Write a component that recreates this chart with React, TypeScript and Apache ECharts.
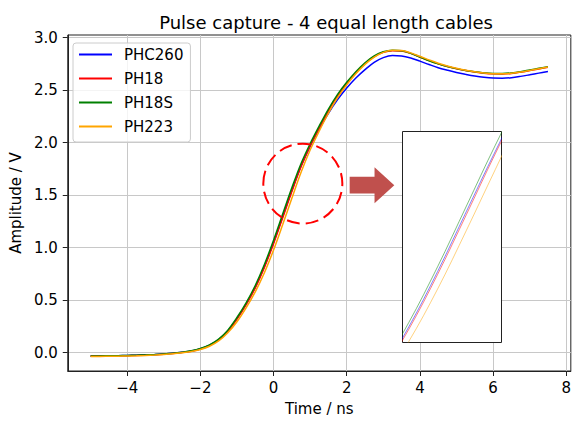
import React, { useEffect, useRef } from "react";
import * as echarts from "echarts";

const timeNs = [
  -5, -4.75, -4.5, -4.25, -4, -3.75, -3.5, -3.25, -3, -2.75, -2.5, -2.25, -2, -1.75, -1.5, -1.25,
  -1, -0.75, -0.5, -0.25, 0, 0.25, 0.5, 0.75, 1, 1.25, 1.5, 1.75, 2, 2.25, 2.5, 2.75, 3, 3.25,
  3.5, 3.75, 4, 4.25, 4.5, 4.75, 5, 5.25, 5.5, 5.75, 6, 6.25, 6.5, 6.75, 7, 7.25, 7.5,
];

const phc260 = [
  -0.03, -0.03, -0.029, -0.028, -0.026, -0.024, -0.021, -0.017, -0.012, -0.005, 0.005, 0.017,
  0.038, 0.071, 0.125, 0.208, 0.325, 0.463, 0.625, 0.822, 1.05, 1.298, 1.545, 1.775, 1.965, 2.13,
  2.28, 2.41, 2.52, 2.615, 2.695, 2.765, 2.81, 2.83, 2.826, 2.806, 2.776, 2.744, 2.714, 2.69,
  2.668, 2.65, 2.634, 2.622, 2.615, 2.614, 2.619, 2.631, 2.646, 2.662, 2.678,
];

const ph18 = [
  -0.032, -0.032, -0.031, -0.03, -0.028, -0.026, -0.023, -0.019, -0.014, -0.007, 0.003, 0.015,
  0.036, 0.069, 0.122, 0.205, 0.32, 0.458, 0.618, 0.812, 1.038, 1.285, 1.535, 1.77, 1.968, 2.14,
  2.302, 2.445, 2.562, 2.665, 2.752, 2.818, 2.86, 2.876, 2.872, 2.85, 2.816, 2.781, 2.75, 2.725,
  2.704, 2.686, 2.672, 2.661, 2.655, 2.654, 2.659, 2.671, 2.686, 2.702, 2.718,
];

const ph18s = [
  -0.03, -0.03, -0.029, -0.028, -0.026, -0.024, -0.021, -0.017, -0.012, -0.005, 0.005, 0.018,
  0.04, 0.075, 0.13, 0.215, 0.335, 0.475, 0.64, 0.84, 1.07, 1.32, 1.57, 1.8, 1.99, 2.16, 2.32,
  2.46, 2.575, 2.675, 2.76, 2.825, 2.865, 2.88, 2.875, 2.85, 2.815, 2.78, 2.75, 2.725, 2.705,
  2.688, 2.674, 2.664, 2.658, 2.658, 2.664, 2.676, 2.692, 2.708, 2.724,
];

const ph223 = [
  -0.035, -0.035, -0.034, -0.033, -0.031, -0.029, -0.026, -0.022, -0.017, -0.01, 0.0, 0.012,
  0.031, 0.062, 0.112, 0.19, 0.295, 0.428, 0.58, 0.762, 0.978, 1.22, 1.47, 1.715, 1.93, 2.112,
  2.28, 2.428, 2.55, 2.655, 2.745, 2.815, 2.86, 2.88, 2.878, 2.855, 2.822, 2.788, 2.756, 2.73,
  2.708, 2.69, 2.675, 2.663, 2.656, 2.655, 2.66, 2.672, 2.688, 2.704, 2.72,
];

const seriesNames = ["PHC260", "PH18", "PH18S", "PH223"];
const seriesValues = [phc260, ph18, ph18s, ph223];
const seriesColors = ["#0000ff", "#ff0000", "#008000", "#ffa500"];

const xTicks = [-4, -2, 0, 2, 4, 6, 8];
const yTicks = [0, 0.5, 1, 1.5, 2, 2.5, 3];
const xRange = [-5.625, 8.125];
const yRange = [-0.174, 3.025];

const insetXRange = [-0.3, 0.55];
const insetYRange = [0.76, 1.625];

const circleCenter = [0.8, 1.61];
const circleRadius = [1.08, 0.38];
const arrowX = [2.08, 2.76, 3.3]; // tail, head base, tip
const arrowY = 1.595;
const arrowHalf = [0.08, 0.172]; // body, head

const FONT = "DejaVu Sans";

const MAIN = { left: 66, top: 35, width: 510, height: 337 };
const INSET = { left: 403, top: 132, width: 98, height: 210 };

function fmtTick(v: number, digits: number) {
  const s = digits > 0 ? Math.abs(v).toFixed(digits) : String(Math.abs(v));
  return v < 0 ? "\u2212" + s : s;
}

export default function App() {
  const ref = useRef<HTMLDivElement>(null);
  useEffect(() => {
    if (!ref.current) return;
    const chart = echarts.init(ref.current, null, { renderer: "svg" });
    const mainSeries = seriesNames.map((name, i) => ({
      type: "line",
      name,
      xAxisIndex: 0,
      yAxisIndex: 0,
      data: timeNs.map((t, k) => [t, seriesValues[i][k]]),
      symbol: "none",
      smooth: 0.35,
      lineStyle: { width: 1.5, color: seriesColors[i] },
      itemStyle: { color: seriesColors[i] },
      z: 2,
    }));
    const insetSeries = seriesNames.map((name, i) => ({
      type: "line",
      name,
      xAxisIndex: 1,
      yAxisIndex: 1,
      data: timeNs.map((t, k) => [t, seriesValues[i][k]]),
      symbol: "none",
      smooth: 0.35,
      clip: true,
      lineStyle: { width: 1, color: seriesColors[i], opacity: 0.5 },
      itemStyle: { color: seriesColors[i] },
      z: 10,
    }));
    const axisText = { fontFamily: FONT, fontSize: 15, color: "#000" };
    chart.setOption({
      animation: false,
      backgroundColor: "#fff",
      title: {
        text: "Pulse capture - 4 equal length cables",
        left: MAIN.left + MAIN.width / 2,
        top: 8,
        textAlign: "center",
        textStyle: { fontFamily: FONT, fontSize: 18, fontWeight: "normal", color: "#000" },
      },
      legend: {
        data: seriesNames,
        orient: "vertical",
        left: 73,
        top: 43,
        itemWidth: 33,
        itemHeight: 14,
        itemGap: 9,
        padding: [4, 7, 8, 5],
        backgroundColor: "rgba(255,255,255,0.8)",
        borderColor: "#cccccc",
        borderWidth: 1,
        borderRadius: 3,
        itemStyle: { opacity: 0 },
        textStyle: { fontFamily: FONT, fontSize: 15, lineHeight: 14, color: "#000", padding: [0, 0, 0, 7] },
      },
      grid: [
        { ...MAIN, show: true, borderColor: "#222", borderWidth: 1, backgroundColor: "transparent" },
        { ...INSET, show: false },
      ],
      xAxis: [
        {
          type: "value",
          gridIndex: 0,
          min: xRange[0],
          max: xRange[1],
          name: "Time / ns",
          nameLocation: "middle",
          nameGap: 30,
          nameTextStyle: axisText,
          axisLine: { onZero: false, lineStyle: { color: "#222", width: 1 } },
          axisTick: { customValues: xTicks, length: 5, lineStyle: { color: "#222" } },
          axisLabel: {
            customValues: xTicks,
            margin: 9,
            ...axisText,
            formatter: (v: number) => fmtTick(v, 0),
          },
          splitLine: { show: true, lineStyle: { color: "#c8c8c8", width: 1 } },
        },
        {
          type: "value",
          gridIndex: 1,
          min: insetXRange[0],
          max: insetXRange[1],
          show: false,
        },
      ],
      yAxis: [
        {
          type: "value",
          gridIndex: 0,
          min: yRange[0],
          max: yRange[1],
          name: "Amplitude / V",
          nameLocation: "middle",
          nameGap: 43,
          nameTextStyle: axisText,
          axisLine: { show: true, onZero: false, lineStyle: { color: "#222", width: 1 } },
          axisTick: { show: true, customValues: yTicks, length: 5, lineStyle: { color: "#222" } },
          axisLabel: {
            customValues: yTicks,
            margin: 10,
            ...axisText,
            formatter: (v: number) => fmtTick(v, 1),
          },
          splitLine: { show: true, lineStyle: { color: "#c8c8c8", width: 1 } },
        },
        {
          type: "value",
          gridIndex: 1,
          min: insetYRange[0],
          max: insetYRange[1],
          show: false,
        },
      ],
      series: [...mainSeries, ...insetSeries],
    });

    const px = (x: number, y: number) =>
      chart.convertToPixel({ xAxisIndex: 0, yAxisIndex: 0 }, [x, y]) as number[];
    const c = px(circleCenter[0], circleCenter[1]);
    const cr = px(circleCenter[0] + circleRadius[0], circleCenter[1] + circleRadius[1]);
    const tail = px(arrowX[0], arrowY);
    const base = px(arrowX[1], arrowY);
    const tip = px(arrowX[2], arrowY);
    const bodyTop = px(arrowX[0], arrowY + arrowHalf[0])[1];
    const bodyBot = px(arrowX[0], arrowY - arrowHalf[0])[1];
    const headTop = px(arrowX[1], arrowY + arrowHalf[1])[1];
    const headBot = px(arrowX[1], arrowY - arrowHalf[1])[1];

    chart.setOption({
      graphic: [
        {
          type: "rect",
          z: 5,
          shape: { x: INSET.left - 0.5, y: INSET.top - 0.5, width: INSET.width + 1, height: INSET.height + 1 },
          style: { fill: "#fff", stroke: "#222", lineWidth: 1 },
        },
        {
          type: "ellipse",
          z: 20,
          shape: { cx: c[0], cy: c[1], rx: Math.abs(cr[0] - c[0]), ry: Math.abs(c[1] - cr[1]) },
          style: { fill: "none", stroke: "#ff0000", lineWidth: 2, lineDash: [13, 6] },
        },
        {
          type: "polygon",
          z: 20,
          shape: {
            points: [
              [tail[0], bodyTop],
              [base[0], bodyTop],
              [base[0], headTop],
              [tip[0], tip[1]],
              [base[0], headBot],
              [base[0], bodyBot],
              [tail[0], bodyBot],
            ],
          },
          style: { fill: "#c0504d", stroke: "none" },
        },
      ],
    });
    return () => chart.dispose();
  }, []);
  return (
    <div
      ref={ref}
      style={{ position: "fixed", left: 0, top: 0, width: 574, height: 421, background: "#fff" }}
    />
  );
}
